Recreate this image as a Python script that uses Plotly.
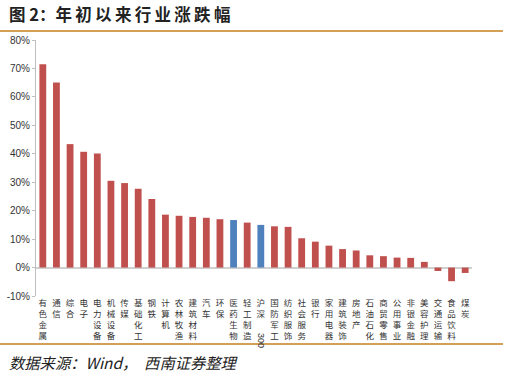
import plotly.graph_objects as go

categories = ["有色金属", "通信", "综合", "电子", "电力设备", "机械设备", "传媒", "基础化工",
              "钢铁", "计算机", "农林牧渔", "建筑材料", "汽车", "环保", "医药生物", "轻工制造",
              "沪深300", "国防军工", "纺织服饰", "社会服务", "银行", "家用电器", "建筑装饰", "房地产",
              "石油石化", "商贸零售", "公用事业", "非银金融", "美容护理", "交通运输", "食品饮料", "煤炭"]
values = [71.5, 65.1, 43.4, 40.7, 40.1, 30.5, 29.7, 27.7,
          24.1, 18.6, 18.2, 17.8, 17.5, 17.0, 16.7, 15.8,
          15.0, 14.5, 14.3, 10.3, 9.1, 7.7, 6.5, 6.0,
          4.3, 4.0, 3.5, 3.4, 2.0, -1.2, -4.8, -1.9]
highlighted = ["医药生物", "沪深300"]
y_ticks = [-10, 0, 10, 20, 30, 40, 50, 60, 70, 80]

RED = "#C0504D"
BLUE = "#4F81BD"
colors = [BLUE if c in highlighted else RED for c in categories]

def stack(label):
    if label == "沪深300":
        return "沪<br>深<br> <br> "
    return "<br>".join(list(label))

ticktext = [stack(c) for c in categories]

fig = go.Figure()
fig.add_trace(go.Bar(x=categories, y=values, marker=dict(color=colors, line=dict(width=0)),
                     width=0.5, showlegend=False, hoverinfo="skip"))

CJK = "Noto Sans CJK SC"
fig.update_layout(
    width=507, height=378,
    margin=dict(l=36, r=35, t=40, b=82, autoexpand=False),
    paper_bgcolor="white", plot_bgcolor="white",
    font=dict(family=CJK, color="#333333"),
    xaxis=dict(tickmode="array", tickvals=categories, ticktext=ticktext, automargin=False,
               tickangle=0, tickfont=dict(size=8.5, family=CJK, color="#333333"),
               showgrid=False, showline=False, ticks="", range=[-0.5, len(categories) - 0.5]),
    yaxis=dict(range=[-10, 80], tickvals=y_ticks, ticktext=[f"{v}%" for v in y_ticks],
               automargin=False,
               tickfont=dict(size=10, family="Liberation Sans, Arial", color="#333333"),
               showgrid=False, showline=True, linecolor="#BFBFBF", linewidth=1,
               ticks="outside", ticklen=3, tickcolor="#BFBFBF",
               zeroline=True, zerolinecolor="#D0D0D0", zerolinewidth=2),
    bargap=0.5,
)

idx300 = categories.index("沪深300")
fig.add_annotation(x=categories[idx300], xref="x", y=-0.175, yref="paper", text="300",
                   textangle=90, showarrow=False, font=dict(size=9, family="Liberation Sans", color="#333333"),
                   yanchor="middle")

TS = "\u2009"
title_text = "图 2：" + TS.join("年初以来行业涨跌幅")
fig.add_annotation(x=-0.066, xref="paper", y=1.1016, yref="paper", xanchor="left", yanchor="middle",
                   text="<b>" + title_text + "</b>", showarrow=False,
                   font=dict(size=16.5, family=CJK, color="#222222"))
fig.add_annotation(x=-0.066, xref="paper", y=-0.258, yref="paper", xanchor="left", yanchor="middle",
                   text="<i>数据来源：Wind，  西南证券整理</i>", showarrow=False,
                   font=dict(size=15.3, family=CJK, color="#222222"))

for yy in [1.035, -0.1875]:
    fig.add_shape(type="line", xref="paper", yref="paper", x0=-0.0826, x1=1.071, y0=yy, y1=yy,
                  line=dict(color="#D4A056", width=2))

fig.write_html("out.html", config={"displayModeBar": False},
               post_script="document.body.style.margin='0';document.body.style.overflow='hidden';")
